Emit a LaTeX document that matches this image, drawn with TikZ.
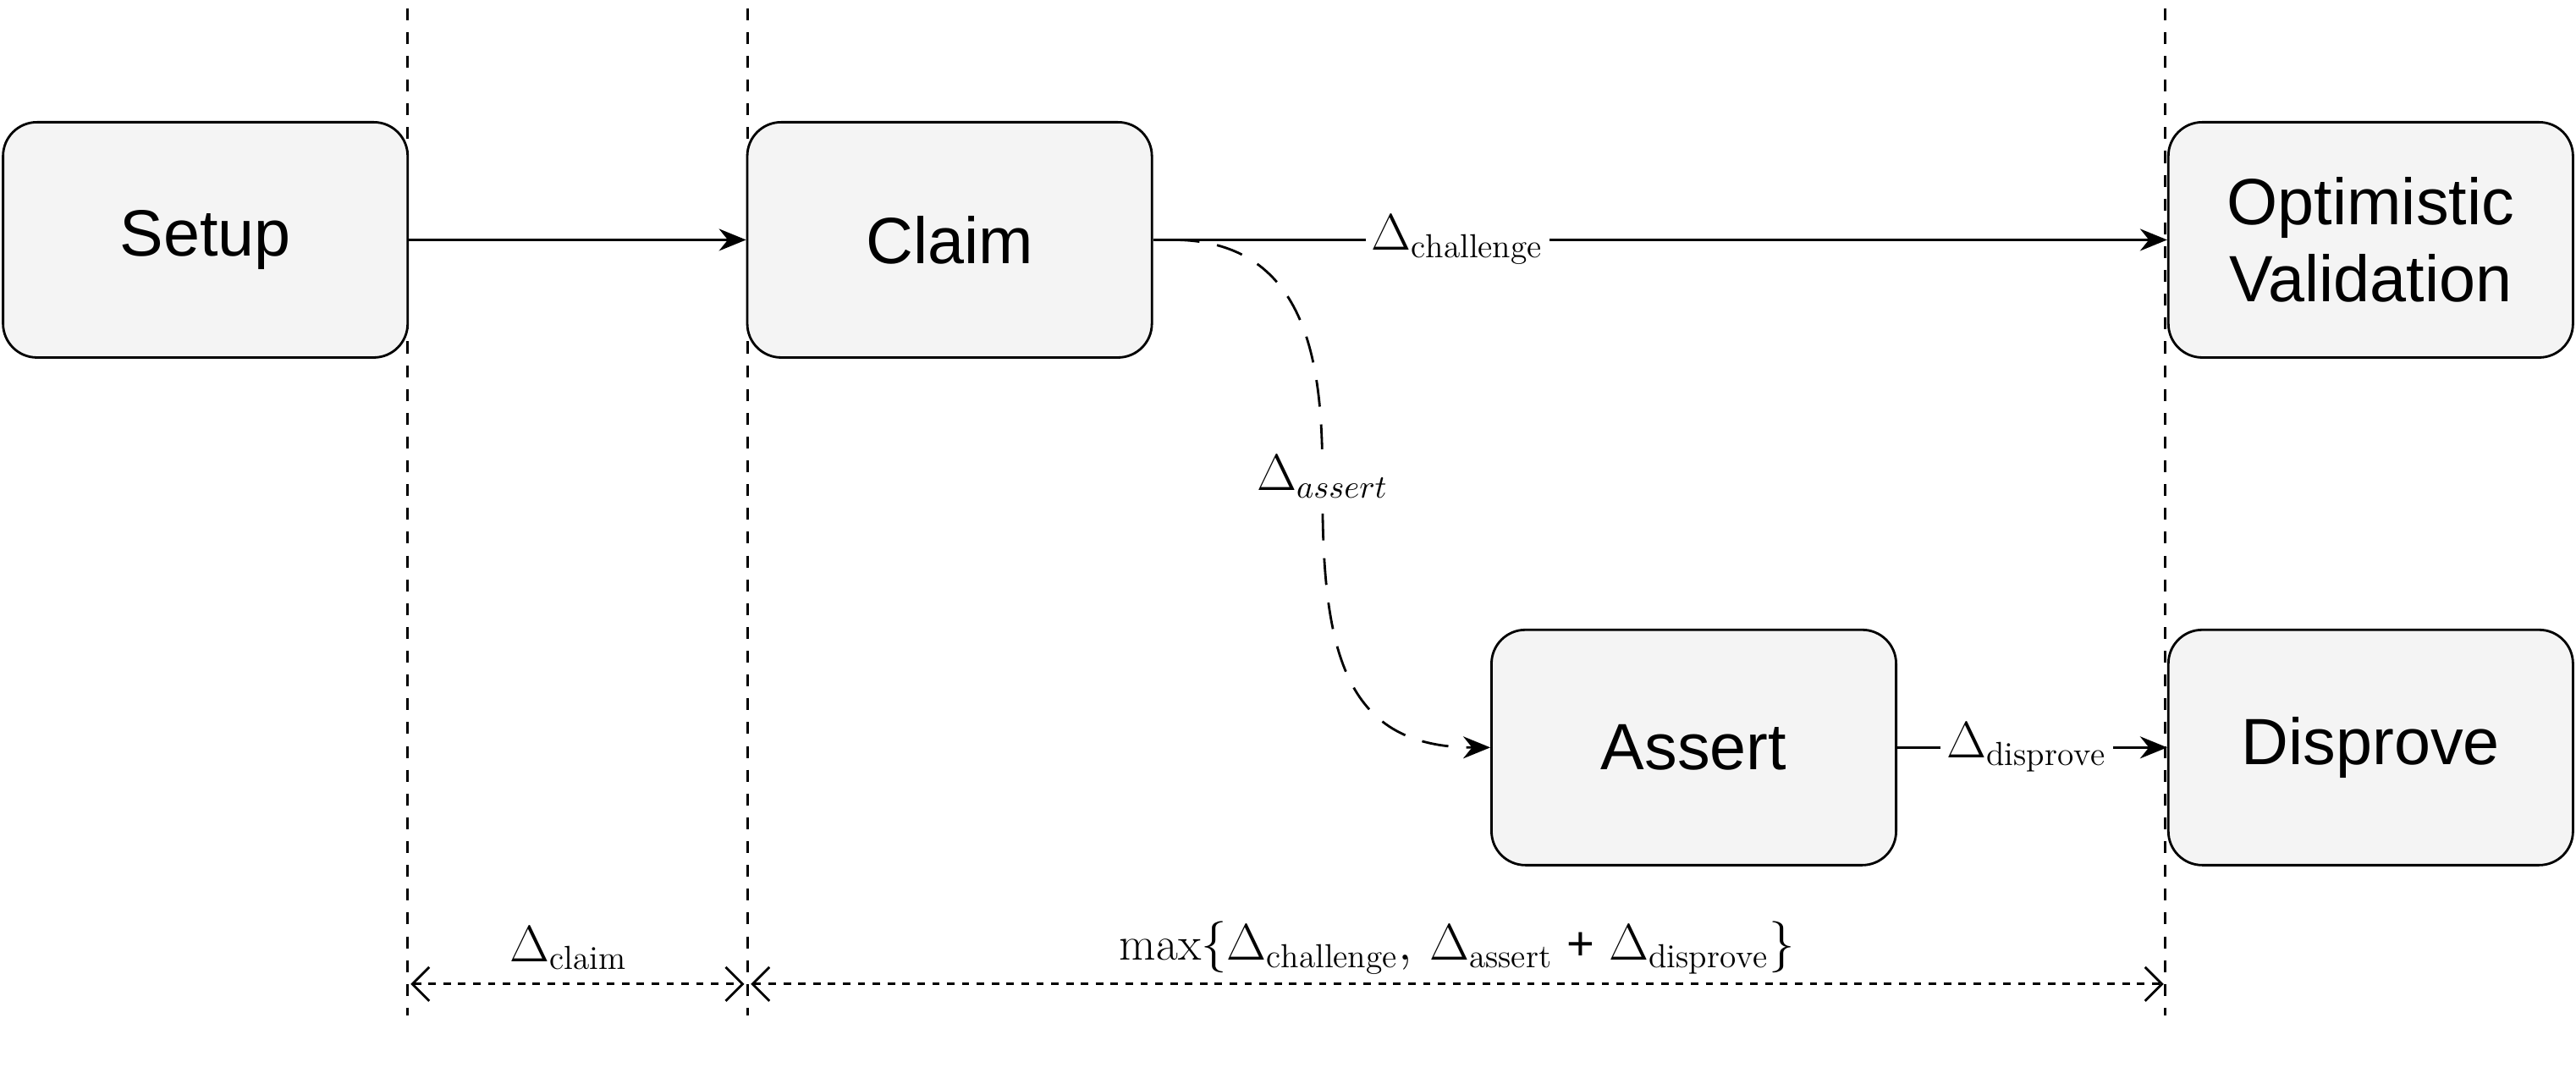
\documentclass[tikz,border=0pt]{standalone}
\usepackage{fontspec}
\newfontfamily\boxfont{Liberation Sans}
\usetikzlibrary{arrows.meta}
\tikzset{
  phase/.style={draw,thick,rounded corners=0.4cm,fill={rgb,255:red,244;green,244;blue,244},
    minimum width=4.78cm,minimum height=2.78cm,align=center,
    font=\boxfont\fontsize{22}{26}\selectfont},
  flow/.style={thick,-{Stealth[length=0.32cm,width=0.26cm]}},
  lbl/.style={fill=white,font=\fontsize{16}{19}\selectfont,inner sep=2pt},
  span/.style={thick,dash pattern=on 2.5pt off 2.5pt,{Straight Barb[length=0.2cm]}-{Straight Barb[length=0.2cm]}},
  bound/.style={thick,dash pattern=on 4pt off 4pt}
}
\begin{document}
\begin{tikzpicture}[x=0.01941cm,y=-0.01941cm]
\useasboundingbox (0,0) rectangle (1568,653);
% phase boundaries
\foreach \x in {248,455,1318}
  \draw[bound] (\x,5) -- (\x,618);
% phases
\node[phase] (setup) at (125,146) {Setup};
\node[phase] (claim) at (578,146) {Claim};
\node[phase] (optimistic) at (1443,146) {Optimistic\\Validation};
\node[phase] (assert) at (1031,455) {Assert};
\node[phase] (disprove) at (1443,455) {Disprove};
% transitions
\draw[flow] (setup) -- (claim);
\draw[flow] (claim) -- node[lbl,pos=0.3]{$\Delta_{\mathrm{challenge}}$} (optimistic);
\draw[flow,dash pattern=on 9pt off 6pt] (claim.east) ++(12,0) coordinate (c0)
  .. controls (805,146) and (805,240) .. (805,300)
  .. controls (805,400) and (820,455) .. (assert.west);
\node[lbl] (dassert) at (805,290) {$\Delta_{assert}$};
\draw[flow] (assert) -- node[lbl,pos=0.48]{$\Delta_{\mathrm{disprove}}$} (disprove);
% durations
\coordinate (a1) at (250,599); \coordinate (a2) at (453,599);
\coordinate (b1) at (457,599); \coordinate (b2) at (1317,599);
\draw[span] (a1) -- (a2);
\draw[span] (b1) -- (b2);
\node[font=\fontsize{16}{19}\selectfont] (dclaim) at (346,577) {$\Delta_{\mathrm{claim}}$};
\node[font=\fontsize{16}{19}\selectfont] (dmax) at (887,577)
  {$\max\{\Delta_{\mathrm{challenge}},\,\Delta_{\mathrm{assert}}$ {\boxfont +} $\Delta_{\mathrm{disprove}}\}$};
\end{tikzpicture}
\end{document}
